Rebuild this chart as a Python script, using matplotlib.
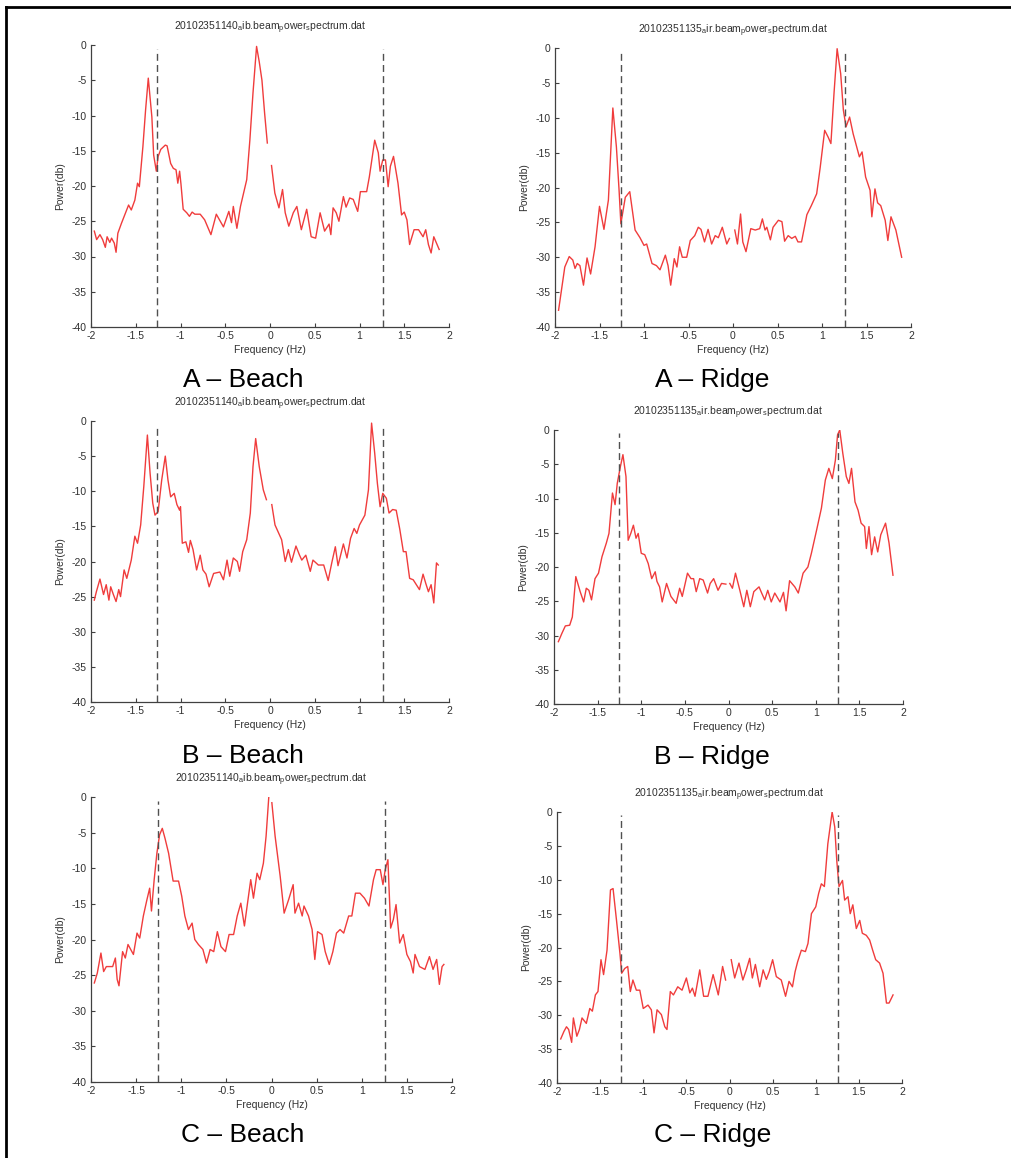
import numpy as np
import matplotlib
matplotlib.use('Agg')
import matplotlib.pyplot as plt
from matplotlib.lines import Line2D

plt.rcParams['font.family'] = ['Liberation Sans', 'DejaVu Sans']
plt.rcParams['mathtext.default'] = 'regular'

nan = np.nan

# Spectra (frequency in Hz, power in dB); nan = gap at 0 Hz
a_beach_f = [-1.963, -1.937, -1.90, -1.87, -1.84, -1.82, -1.79, -1.77, -1.74, -1.72, -1.70, -1.66, -1.58,
             -1.55, -1.51, -1.48, -1.46, -1.42, -1.39, -1.36, -1.32, -1.30, -1.27, -1.25, -1.22, -1.17,
             -1.15, -1.11, -1.08, -1.05, -1.03, -1.01, -0.995, -0.97, -0.93, -0.90, -0.87, -0.84, -0.78,
             -0.73, -0.66, -0.60, -0.52, -0.46, -0.43, -0.41, -0.37, -0.33, -0.26, -0.225, -0.19, -0.15,
             -0.12, -0.09, -0.06, -0.03, 0.0, 0.017, 0.054, 0.10, 0.14, 0.17, 0.21, 0.26, 0.30, 0.35, 0.41,
             0.46, 0.51, 0.56, 0.61, 0.66, 0.68, 0.705, 0.74, 0.77, 0.82, 0.85, 0.89, 0.93, 0.98, 1.01,
             1.08, 1.11, 1.17, 1.21, 1.23, 1.26, 1.29, 1.32, 1.345, 1.38, 1.43, 1.47, 1.50, 1.53, 1.56,
             1.61, 1.66, 1.71, 1.74, 1.77, 1.80, 1.83, 1.89]
a_beach_p = [-26.4, -27.6, -26.9, -27.6, -28.7, -27.2, -28.0, -27.4, -28.1, -29.4, -26.7, -25.3, -22.7,
             -23.4, -22.0, -19.6, -20.1, -14.4, -9.2, -4.7, -10.2, -15.6, -17.9, -15.8, -14.8, -14.2,
             -14.3, -16.8, -17.5, -17.7, -19.6, -17.9, -19.7, -23.3, -23.8, -24.3, -23.7, -24.0, -24.0,
             -24.8, -26.9, -24.0, -25.8, -23.6, -25.2, -22.9, -26.0, -22.9, -19.1, -13.5, -6.8, -0.2,
             -2.4, -5.0, -9.7, -13.9, nan, -17.1, -21.0, -23.1, -20.5, -23.8, -25.7, -23.8, -22.9, -26.2,
             -23.3, -27.2, -27.4, -23.8, -26.4, -25.4, -26.9, -23.1, -23.8, -25.0, -21.5, -23.0, -21.7,
             -21.9, -23.6, -20.8, -20.8, -18.7, -13.5, -15.3, -17.9, -16.3, -16.3, -20.1, -17.2, -15.8,
             -19.6, -24.1, -23.7, -24.8, -28.3, -26.2, -26.2, -27.2, -26.2, -28.3, -29.5, -27.2, -29.0]

a_ridge_f = [-1.96, -1.925, -1.89, -1.84, -1.80, -1.775, -1.75, -1.72, -1.68, -1.64, -1.60, -1.55, -1.50,
             -1.45, -1.40, -1.35, -1.31, -1.28, -1.26, -1.21, -1.16, -1.10, -1.045, -1.0, -0.97, -0.91,
             -0.86, -0.82, -0.76, -0.73, -0.70, -0.66, -0.63, -0.60, -0.57, -0.52, -0.48, -0.43, -0.39,
             -0.36, -0.32, -0.28, -0.24, -0.20, -0.165, -0.12, -0.07, -0.04, 0.0, 0.02, 0.05, 0.085, 0.11,
             0.146, 0.20, 0.25, 0.30, 0.33, 0.36, 0.38, 0.42, 0.45, 0.51, 0.55, 0.58, 0.62, 0.66, 0.70,
             0.73, 0.77, 0.83, 0.88, 0.94, 0.98, 1.03, 1.07, 1.10, 1.135, 1.17, 1.21, 1.24, 1.27, 1.31,
             1.35, 1.42, 1.45, 1.49, 1.54, 1.56, 1.595, 1.625, 1.66, 1.71, 1.74, 1.775, 1.83, 1.895]
a_ridge_p = [-37.6, -34.5, -31.4, -29.9, -30.4, -31.6, -30.9, -31.2, -34.0, -30.1, -32.4, -28.5, -22.7,
             -26.0, -21.8, -8.6, -14.2, -20.4, -25.2, -21.4, -20.6, -26.1, -27.2, -28.3, -28.1, -30.9,
             -31.2, -31.8, -29.7, -31.2, -34.0, -30.2, -31.4, -28.5, -30.0, -30.0, -27.6, -26.9, -25.7,
             -26.0, -27.8, -26.0, -28.1, -26.9, -27.2, -25.7, -28.1, -27.3, nan, -26.1, -28.1, -23.8,
             -27.8, -29.2, -25.9, -26.1, -25.9, -24.5, -26.1, -25.7, -27.5, -25.7, -24.7, -24.9, -27.7,
             -26.9, -27.3, -27.0, -27.8, -27.8, -23.9, -22.6, -20.9, -17.1, -11.8, -12.8, -13.7, -6.5,
             -0.1, -3.7, -8.9, -11.3, -9.9, -12.3, -15.6, -14.9, -18.5, -20.4, -24.2, -20.2, -22.2,
             -22.6, -24.7, -27.6, -24.2, -26.1, -30.0]

b_beach_f = [-1.963, -1.94, -1.90, -1.86, -1.83, -1.80, -1.78, -1.75, -1.72, -1.69, -1.67, -1.63, -1.60,
             -1.55, -1.51, -1.48, -1.445, -1.41, -1.37, -1.34, -1.31, -1.285, -1.25, -1.21, -1.17, -1.14,
             -1.11, -1.07, -1.04, -1.01, -1.0, -0.98, -0.94, -0.91, -0.89, -0.86, -0.82, -0.78, -0.75,
             -0.715, -0.68, -0.63, -0.56, -0.52, -0.48, -0.45, -0.41, -0.365, -0.34, -0.305, -0.26, -0.22,
             -0.19, -0.16, -0.12, -0.075, -0.04, 0.0, 0.02, 0.056, 0.13, 0.17, 0.205, 0.24, 0.29, 0.33,
             0.355, 0.40, 0.45, 0.48, 0.54, 0.60, 0.65, 0.69, 0.73, 0.76, 0.82, 0.86, 0.90, 0.94, 0.97,
             1.0, 1.06, 1.10, 1.135, 1.17, 1.20, 1.23, 1.26, 1.30, 1.33, 1.37, 1.41, 1.45, 1.49, 1.52,
             1.56, 1.60, 1.67, 1.71, 1.74, 1.77, 1.80, 1.83, 1.86, 1.88]
b_beach_p = [-25.5, -24.3, -22.5, -24.7, -23.3, -25.5, -23.6, -24.7, -25.7, -24.0, -25.0, -21.2, -22.4,
             -19.8, -16.4, -17.4, -14.8, -9.3, -2.0, -7.4, -11.7, -13.4, -12.9, -8.4, -5.0, -8.4, -10.8,
             -10.3, -11.9, -12.7, -12.2, -17.4, -17.2, -18.7, -17.0, -18.3, -21.2, -19.1, -21.2, -21.8,
             -23.6, -21.7, -21.5, -22.6, -19.8, -22.1, -19.5, -20.0, -21.4, -18.6, -16.9, -13.1, -6.5,
             -2.5, -6.5, -9.8, -11.2, nan, -11.9, -14.8, -16.9, -20.0, -18.3, -20.1, -17.8, -19.1, -19.8,
             -19.1, -21.4, -19.8, -20.5, -20.5, -22.7, -20.2, -17.9, -20.6, -17.5, -19.5, -16.7, -15.3,
             -16.0, -14.8, -13.4, -9.8, -0.3, -4.6, -8.9, -12.2, -10.3, -11.0, -13.1, -12.6, -12.7,
             -15.4, -18.6, -18.6, -22.4, -22.6, -24.0, -21.8, -23.1, -24.3, -23.3, -25.9, -20.2, -20.5]

b_ridge_f = [-1.95, -1.91, -1.87, -1.82, -1.79, -1.75, -1.70, -1.66, -1.63, -1.60, -1.57, -1.53, -1.49,
             -1.45, -1.40, -1.37, -1.33, -1.30, -1.275, -1.24, -1.21, -1.175, -1.15, -1.12, -1.09, -1.06,
             -1.035, -1.0, -0.96, -0.92, -0.88, -0.84, -0.82, -0.79, -0.76, -0.71, -0.66, -0.60, -0.56,
             -0.53, -0.47, -0.43, -0.40, -0.37, -0.33, -0.29, -0.24, -0.21, -0.17, -0.12, -0.08, -0.03,
             0.0, 0.015, 0.045, 0.08, 0.13, 0.175, 0.21, 0.25, 0.29, 0.35, 0.38, 0.415, 0.45, 0.49, 0.53,
             0.59, 0.63, 0.66, 0.70, 0.76, 0.80, 0.855, 0.91, 0.95, 1.01, 1.065, 1.11, 1.15, 1.19, 1.225,
             1.25, 1.275, 1.31, 1.35, 1.38, 1.41, 1.45, 1.485, 1.52, 1.56, 1.58, 1.61, 1.64, 1.675, 1.71,
             1.745, 1.80, 1.84, 1.885]
b_ridge_p = [-30.9, -29.7, -28.6, -28.5, -27.3, -21.4, -23.6, -25.1, -23.1, -23.4, -24.8, -21.7, -20.9,
             -18.5, -16.5, -15.1, -9.2, -10.9, -7.8, -5.4, -3.6, -6.8, -16.1, -15.1, -13.9, -15.8, -15.1,
             -18.0, -18.2, -19.5, -21.7, -20.7, -22.1, -22.9, -25.1, -22.4, -24.3, -25.3, -23.1, -24.3,
             -20.9, -21.7, -21.7, -23.6, -21.7, -21.9, -23.8, -22.4, -21.7, -23.4, -22.4, -22.5, nan,
             -22.4, -23.1, -20.9, -23.4, -25.8, -23.4, -25.8, -23.6, -22.9, -23.8, -24.8, -23.4, -25.1,
             -23.8, -25.1, -23.7, -26.4, -22.0, -22.9, -23.8, -20.9, -20.0, -18.0, -14.6, -11.4, -7.3,
             -5.6, -7.1, -4.4, -0.7, 0.0, -3.4, -6.8, -7.8, -5.6, -10.5, -11.7, -13.6, -14.1, -17.3,
             -14.1, -18.2, -15.6, -17.8, -15.3, -13.6, -16.5, -21.2]

c_beach_f = [-1.963, -1.93, -1.89, -1.86, -1.83, -1.76, -1.73, -1.71, -1.69, -1.65, -1.62, -1.59, -1.53,
             -1.49, -1.46, -1.42, -1.38, -1.35, -1.33, -1.30, -1.27, -1.24, -1.21, -1.18, -1.14, -1.09,
             -1.03, -0.995, -0.96, -0.92, -0.88, -0.85, -0.81, -0.76, -0.72, -0.68, -0.64, -0.60, -0.56,
             -0.51, -0.47, -0.42, -0.38, -0.34, -0.30, -0.27, -0.23, -0.20, -0.16, -0.13, -0.09, -0.06,
             -0.03, -0.01, 0.004, 0.04, 0.096, 0.14, 0.19, 0.24, 0.26, 0.30, 0.34, 0.36, 0.41, 0.45, 0.48,
             0.51, 0.56, 0.595, 0.64, 0.68, 0.72, 0.76, 0.80, 0.855, 0.89, 0.93, 0.98, 1.03, 1.08, 1.13,
             1.16, 1.205, 1.235, 1.26, 1.29, 1.32, 1.35, 1.38, 1.42, 1.46, 1.50, 1.54, 1.57, 1.59, 1.64,
             1.70, 1.75, 1.79, 1.83, 1.86, 1.89, 1.91]
c_beach_p = [-26.1, -24.7, -21.9, -24.5, -23.8, -23.8, -22.6, -25.6, -26.5, -21.7, -22.6, -20.7, -22.1,
             -19.1, -19.8, -16.7, -14.4, -12.8, -16.0, -11.6, -7.9, -5.3, -4.4, -5.8, -7.9, -11.8, -11.8,
             -13.9, -16.7, -18.6, -17.7, -20.0, -20.7, -21.4, -23.3, -21.4, -21.7, -18.9, -21.0, -21.7,
             -19.3, -19.3, -16.7, -14.9, -18.1, -15.3, -11.6, -14.2, -10.7, -11.6, -9.3, -5.5, 0.0, nan,
             -0.8, -5.5, -11.1, -16.3, -14.4, -12.3, -16.3, -14.9, -16.7, -15.3, -16.7, -18.6, -22.8,
             -18.9, -19.3, -21.7, -23.5, -21.7, -19.1, -18.6, -19.1, -16.7, -16.7, -13.5, -13.5, -14.2,
             -15.3, -11.6, -10.2, -10.2, -12.3, -10.2, -8.8, -18.4, -17.2, -15.1, -20.5, -19.3, -22.1,
             -23.1, -24.7, -22.1, -23.8, -24.2, -22.4, -24.2, -22.8, -26.3, -23.8, -23.5]

c_ridge_f = [-1.957, -1.92, -1.89, -1.865, -1.83, -1.81, -1.77, -1.74, -1.71, -1.66, -1.62, -1.59, -1.555,
             -1.525, -1.49, -1.46, -1.42, -1.38, -1.35, -1.31, -1.27, -1.25, -1.215, -1.18, -1.15, -1.12,
             -1.08, -1.04, -1.0, -0.945, -0.906, -0.875, -0.84, -0.79, -0.75, -0.725, -0.686, -0.65, -0.60,
             -0.55, -0.50, -0.46, -0.43, -0.40, -0.345, -0.30, -0.25, -0.19, -0.13, -0.08, -0.045, 0.0,
             0.02, 0.06, 0.11, 0.155, 0.195, 0.234, 0.265, 0.30, 0.35, 0.39, 0.427, 0.46, 0.50, 0.543,
             0.60, 0.65, 0.69, 0.73, 0.76, 0.79, 0.833, 0.88, 0.91, 0.95, 1.0, 1.034, 1.065, 1.10, 1.14,
             1.19, 1.22, 1.245, 1.27, 1.31, 1.335, 1.374, 1.40, 1.43, 1.47, 1.51, 1.54, 1.586, 1.625, 1.66,
             1.695, 1.74, 1.78, 1.82, 1.85, 1.896]
c_ridge_p = [-33.5, -32.4, -31.7, -32.1, -34.0, -30.4, -33.1, -32.1, -30.4, -31.2, -29.0, -29.4, -27.0,
             -26.5, -21.8, -24.0, -20.4, -11.5, -11.3, -16.0, -20.9, -23.8, -23.1, -22.8, -26.5, -24.8,
             -26.3, -26.3, -29.0, -28.5, -29.2, -32.6, -29.2, -29.9, -31.7, -32.1, -26.5, -27.0, -25.8,
             -26.3, -24.5, -26.7, -26.0, -27.2, -23.3, -27.2, -27.2, -24.0, -27.0, -22.8, -24.8, nan,
             -21.8, -24.5, -22.3, -24.8, -23.3, -21.6, -24.5, -22.5, -25.8, -23.3, -24.7, -23.6, -21.8,
             -24.3, -24.8, -27.2, -25.0, -25.8, -23.6, -22.1, -20.4, -20.6, -19.4, -15.0, -14.0, -12.0,
             -10.6, -11.0, -4.7, 0.0, -2.2, -7.4, -11.0, -10.1, -13.0, -12.5, -15.0, -13.7, -17.2, -16.0,
             -17.9, -18.2, -18.9, -20.4, -21.8, -22.3, -23.8, -28.2, -28.2, -27.0]

beach_title = r'20102351140$_a$ib.beam$_p$ower$_s$pectrum.dat'
ridge_title = r'20102351135$_a$ir.beam$_p$ower$_s$pectrum.dat'
cutoff = [-1.26, 1.26]

panels = [
    # (freq, power, title, caption, axes box in px: left, right, top, bottom, caption x, caption y)
    (a_beach_f, a_beach_p, beach_title, 'A \u2013 Beach', (91, 449, 45, 327), (243, 380)),
    (a_ridge_f, a_ridge_p, ridge_title, 'A \u2013 Ridge', (555, 911, 48, 327), (712, 380)),
    (b_beach_f, b_beach_p, beach_title, 'B \u2013 Beach', (91, 449, 421, 702), (243, 756)),
    (b_ridge_f, b_ridge_p, ridge_title, 'B \u2013 Ridge', (554, 903, 430, 704), (712, 757)),
    (c_beach_f, c_beach_p, beach_title, 'C \u2013 Beach', (91, 452, 797, 1082), (243, 1135)),
    (c_ridge_f, c_ridge_p, ridge_title, 'C \u2013 Ridge', (557, 902, 812, 1083), (713, 1135)),
]

W, H = 1011, 1158
fig = plt.figure(figsize=(W / 100, H / 100), dpi=100)
fig.patch.set_facecolor('white')

txt = '#303030'
for f, p, title, caption, (l, r, t, b), (cx, cy) in panels:
    ax = fig.add_axes([l / W, 1 - b / H, (r - l) / W, (b - t) / H])
    w_px, h_px = r - l, b - t
    ax.plot(f, p, color='#f03c3c', lw=1.0)
    for c in cutoff:
        ax.vlines(c, -40, -0.5, colors='#505050', linestyles=(0, (5, 3)), lw=1.0)
    ax.set_xlim(-2, 2)
    ax.set_ylim(-40, 0)
    ax.set_xticks(np.arange(-2, 2.01, 0.5))
    ax.set_xticklabels(['-2', '-1.5', '-1', '-0.5', '0', '0.5', '1', '1.5', '2'])
    ax.set_yticks(np.arange(-40, 1, 5))
    ax.set_yticklabels([str(v) for v in range(-40, 1, 5)])
    for s in ['top', 'right']:
        ax.spines[s].set_visible(False)
    for s in ['left', 'bottom']:
        ax.spines[s].set_color('#404040')
        ax.spines[s].set_linewidth(0.9)
    ax.tick_params(direction='in', length=3, width=0.8, color='#404040',
                   labelsize=7.5, labelcolor=txt, pad=3)
    ax.set_xlabel('Frequency (Hz)', fontsize=7.5, color=txt)
    ax.set_ylabel('Power(db)', fontsize=7.5, color=txt)
    ax.xaxis.set_label_coords(0.5, -18 / h_px)
    ax.yaxis.set_label_coords(-26 / w_px, 0.5)
    ax.text(0.5, 1 + 17 / h_px, title, transform=ax.transAxes, ha='center', va='center',
            fontsize=7.5, color=txt)
    fig.text(cx / W, 1 - cy / H, caption, ha='center', va='center', fontsize=19, color='black')

# page frame: only left and top edges visible
fig.add_artist(Line2D([6 / W, 6 / W], [0, 1 - 7 / H], color='black', lw=2))
fig.add_artist(Line2D([6 / W, 1], [1 - 7 / H, 1 - 7 / H], color='black', lw=2))

fig.savefig('out.png', dpi=100)
